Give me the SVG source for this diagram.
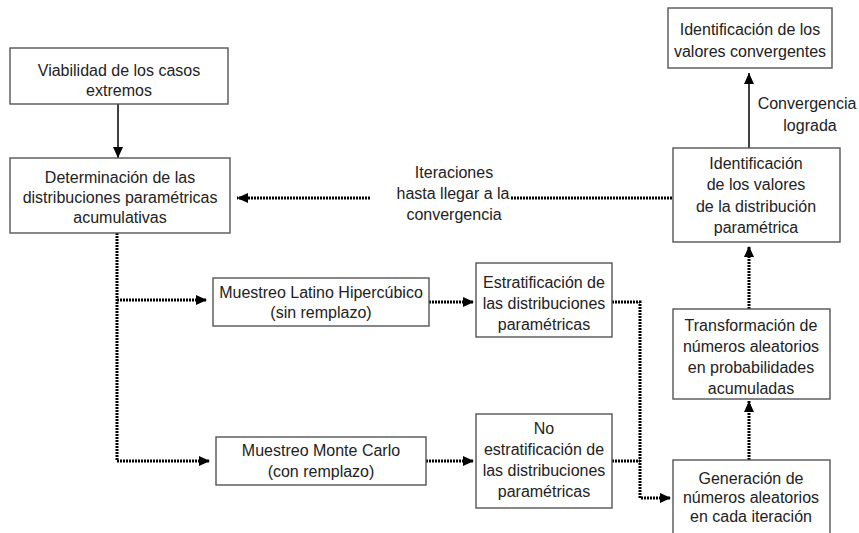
<svg xmlns="http://www.w3.org/2000/svg" width="859" height="533" viewBox="0 0 859 533">
<defs>
<marker id="ah" markerUnits="userSpaceOnUse" markerWidth="12" markerHeight="10" refX="11" refY="5" orient="auto">
<path d="M0,0 L11,5 L0,10 Z" fill="#000"/>
</marker>
<style>
.box{fill:#fff;stroke:#555;stroke-width:1.4}
.t{font-family:"Liberation Sans",Arial,sans-serif;font-size:16px;fill:#222;text-anchor:middle}
.solid{fill:none;stroke:#000;stroke-width:1.5}
.dot{fill:none;stroke:#000;stroke-width:3;stroke-dasharray:2 1}
</style>
</defs>
<rect width="859" height="533" fill="#fff"/>
<g id="connectors">
<path class="solid" d="M118,103 V158" marker-end="url(#ah)"/>
<path class="dot" d="M672,198 H510"/>
<path class="dot" d="M370,198 H237" marker-end="url(#ah)"/>
<path class="dot" d="M117,233 V461 H210" marker-end="url(#ah)"/>
<path class="dot" d="M117,300 H207" marker-end="url(#ah)"/>
<path class="dot" d="M429,302 H474" marker-end="url(#ah)"/>
<path class="dot" d="M426,461 H474" marker-end="url(#ah)"/>
<path class="dot" d="M612,302 H640 V498 H671" marker-end="url(#ah)"/>
<path class="dot" d="M612,461 H640"/>
<path class="dot" d="M749,460 V401" marker-end="url(#ah)"/>
<path class="dot" d="M749,309 V246" marker-end="url(#ah)"/>
<path class="solid" d="M749,148 V73" marker-end="url(#ah)"/>
</g>
<g id="lbl-iter">
<text class="t" x="454" y="178">Iteraciones</text>
<text class="t" x="453" y="199">hasta llegar a la</text>
<text class="t" x="454" y="220">convergencia</text>
</g>
<g id="lbl-conv">
<text class="t" x="807" y="109">Convergencia</text>
<text class="t" x="810" y="131">lograda</text>
</g>
<g id="n1">
<rect class="box" x="10" y="48" width="218" height="56"/>
<text class="t" x="119" y="76">Viabilidad de los casos</text>
<text class="t" x="119" y="96">extremos</text>
</g>
<g id="n2">
<rect class="box" x="10" y="158" width="220" height="75"/>
<text class="t" x="120" y="183">Determinación de las</text>
<text class="t" x="120" y="203">distribuciones paramétricas</text>
<text class="t" x="120" y="223">acumulativas</text>
</g>
<g id="n3">
<rect class="box" x="213" y="278" width="216" height="48"/>
<text class="t" x="321" y="298">Muestreo Latino Hipercúbico</text>
<text class="t" x="321" y="318">(sin remplazo)</text>
</g>
<g id="n4">
<rect class="box" x="216" y="437" width="210" height="48"/>
<text class="t" x="321" y="456">Muestreo Monte Carlo</text>
<text class="t" x="321" y="477">(con remplazo)</text>
</g>
<g id="n5">
<rect class="box" x="476" y="263" width="136" height="74"/>
<text class="t" x="544" y="288">Estratificación de</text>
<text class="t" x="544" y="309">las distribuciones</text>
<text class="t" x="544" y="330">paramétricas</text>
</g>
<g id="n6">
<rect class="box" x="476" y="414" width="136" height="94"/>
<text class="t" x="544" y="434">No</text>
<text class="t" x="544" y="455">estratificación de</text>
<text class="t" x="544" y="476">las distribuciones</text>
<text class="t" x="544" y="497">paramétricas</text>
</g>
<g id="n7">
<rect class="box" x="673" y="460" width="157" height="80"/>
<text class="t" x="751" y="484">Generación de</text>
<text class="t" x="751" y="503">números aleatorios</text>
<text class="t" x="751" y="522">en cada iteración</text>
</g>
<g id="n8">
<rect class="box" x="673" y="309" width="157" height="90"/>
<text class="t" x="751" y="331">Transformación de</text>
<text class="t" x="751" y="352">números aleatorios</text>
<text class="t" x="751" y="373">en probabilidades</text>
<text class="t" x="751" y="394">acumuladas</text>
</g>
<g id="n9">
<rect class="box" x="673" y="148" width="167" height="94"/>
<text class="t" x="756" y="169">Identificación</text>
<text class="t" x="756" y="190">de los valores</text>
<text class="t" x="756" y="212">de la distribución</text>
<text class="t" x="756" y="233">paramétrica</text>
</g>
<g id="n10">
<rect class="box" x="668" y="8" width="164" height="60"/>
<text class="t" x="750" y="35">Identificación de los</text>
<text class="t" x="750" y="57">valores convergentes</text>
</g>
</svg>
